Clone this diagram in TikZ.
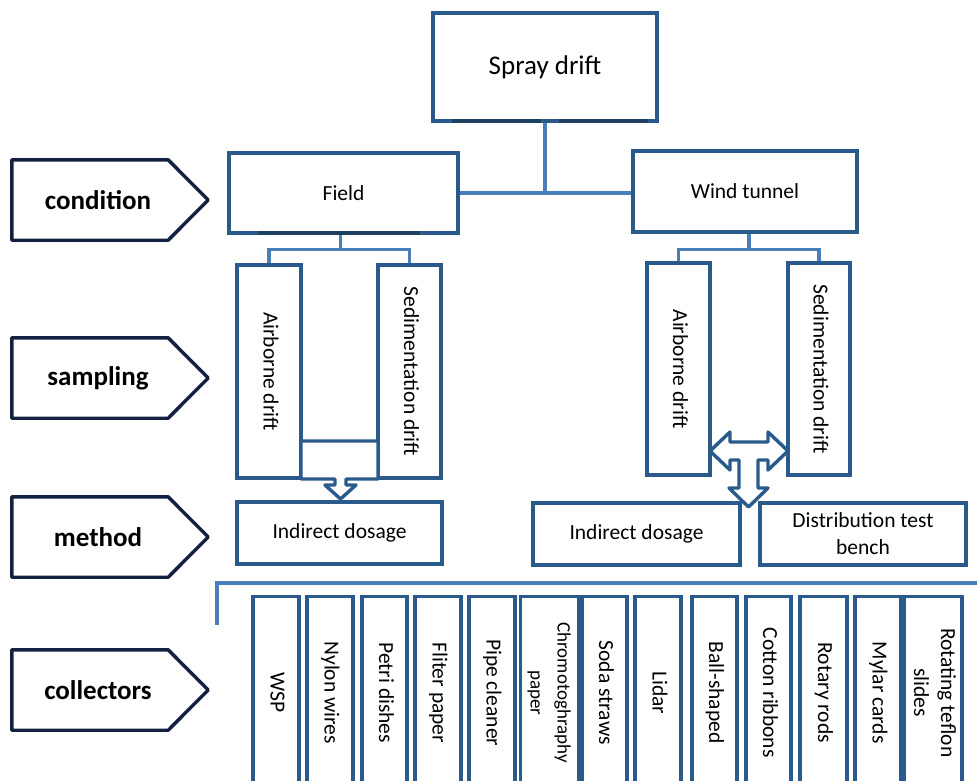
\documentclass[tikz,border=0pt]{standalone}
\usepackage{fontspec}
\setmainfont{Carlito}
\usepackage{graphicx}
\usetikzlibrary{positioning,calc}
\definecolor{boxblue}{RGB}{42,90,140}
\definecolor{linkblue}{RGB}{74,126,187}
\definecolor{tagnavy}{RGB}{18,32,66}
\newcommand{\vtext}[1]{\rotatebox{-90}{\begin{tabular}{@{}c@{}}#1\end{tabular}}}

\begin{document}
\begin{tikzpicture}[x=1pt,y=-1pt,
  box/.style={draw=boxblue,line width=3.4pt,fill=white,inner sep=2pt,font=\fontsize{21.5}{27}\selectfont},
  link/.style={draw=linkblue,line width=3.4pt},
  tag/.style={minimum width=156,minimum height=80,inner sep=0pt,font=\fontsize{27}{30}\selectfont\bfseries,
    append after command={\pgfextra{\draw[tagnavy,line width=3.4pt,line join=round]
      (\tikzlastnode.north west) -- (\tikzlastnode.north east) -- ([xshift=40pt]\tikzlastnode.east)
      -- (\tikzlastnode.south east) -- (\tikzlastnode.south west) -- cycle;}}},
  collector/.style={box,anchor=north,minimum height=192}]
\clip (0,0) rectangle (977,780);

% row labels
\node[tag] (condition) at (90,200) {\hspace{16pt}condition};
\node[tag] (sampling) at (90,378) {\hspace{16pt}sampling};
\node[tag] (method) at (90,537) {\hspace{16pt}method};
\node[tag] (collectors) at (90,690) {\hspace{16pt}collectors};

% condition
\node[box,minimum width=224,minimum height=108,font=\fontsize{27}{30}\selectfont] (spray) at (545,67) {Spray drift};
\node[box,minimum width=229,minimum height=80] (field) at (343.5,193) {Field};
\node[box,minimum width=224,minimum height=81] (wind) at (745,191.5) {Wind tunnel};
\draw[link] (spray.south) -- (spray.south |- field.east);
\draw[link] (field.east) -- (field.east -| wind.west);
\draw[line width=4.5pt,draw=boxblue!70!black] (452,121) -- (541,121) (559,121) -- (648,121) (258,233) -- (420,233);

% sampling
\node[box,minimum width=64,minimum height=213] (fair) at (269,371.5) {\vtext{Airborne drift}};
\node[box,minimum width=63,minimum height=213] (fsed) at (409.5,371.5) {\vtext{Sedimentation drift}};
\draw[link] ([xshift=-3pt]field.south) -- ++(0,15) coordinate (fj) -| (fair.north);
\draw[link] (fj) -| (fsed.north);
\node[box,minimum width=63,minimum height=212] (wair) at (678.5,369) {\vtext{Airborne drift}};
\node[box,minimum width=62,minimum height=212] (wsed) at (819,369) {\vtext{Sedimentation drift}};
\draw[link] ([xshift=4pt]wind.south) -- ++(0,16) coordinate (wj) -| (wair.north);
\draw[link] (wj) -| (wsed.north);

% method
\node[box,minimum width=205,minimum height=62] (fdose) at (339.5,533) {Indirect dosage};
\node[box,minimum width=207,minimum height=62] (wdose) at (636.5,534) {Indirect dosage};
\node[box,minimum width=206,minimum height=62,align=center] (bench) at (863,534) {Distribution test\\bench};

% block arrows
\draw[boxblue,line width=3.4pt,fill=white,line join=round]
  (301,441) -- (378,441) -- (378,479) -- (346,479) -- (346,485) -- (356,485)
  -- (340.5,499) -- (325,485) -- (335,485) -- (335,479) -- (301,479) -- cycle;
\draw[boxblue,line width=3.4pt,fill=white,line join=round]
  (710,451) -- (730,432) -- (730,442) -- (768,442) -- (768,432) -- (788,451)
  -- (768,470) -- (768,460) -- (758,460) -- (758,488) -- (768,488) -- (748.5,507)
  -- (729,488) -- (739,488) -- (739,460) -- (730,460) -- (730,470) -- cycle;

% collectors
\coordinate (cl) at (217,625);
\coordinate (cr) at (977,583);
\draw[link] (cl) |- (cr);
\foreach \cx/\cw/\cf/\ctext [count=\i] in {
  276/46/21.5/WSP, 330/46/21.5/Nylon wires, 384.5/45/21.5/Petri dishes,
  438/46/21.5/Fliter paper, 492/46/21.5/Pipe cleaner, 549.5/55/19/{Chromotoghraphy\\paper},
  604.5/45/21.5/Soda straws, 658/46/21.5/Lidar, 714.5/45/21.5/Ball-shaped,
  768.5/45/21.5/Cotton ribbons, 823.5/47/21.5/Rotary rods, 878/46/21.5/Mylar cards,
  933/52/21.5/{Rotating teflon\\slides}}
  \node[collector,minimum width=\cw,font=\fontsize{\cf}{27}\selectfont] (col-\i) at (\cx,595) {\vtext{\ctext}};
\end{tikzpicture}
\end{document}
